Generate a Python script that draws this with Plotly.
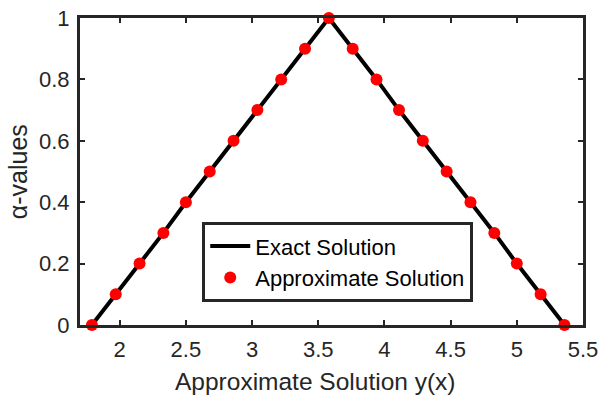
import plotly.graph_objects as go

alpha = [0.0, 0.1, 0.2, 0.3, 0.4, 0.5, 0.6, 0.7, 0.8, 0.9, 1.0]
left_x = [1.79, 1.97, 2.15, 2.33, 2.50, 2.68, 2.86, 3.04, 3.22, 3.40, 3.58]
right_x = [5.36, 5.18, 5.00, 4.83, 4.65, 4.47, 4.29, 4.11, 3.94, 3.76, 3.58]

# full triangle (left rising branch, then right falling branch)
tri_x = left_x + right_x[::-1][1:]
tri_a = alpha + alpha[::-1][1:]

x_ticks = [2, 2.5, 3, 3.5, 4, 4.5, 5, 5.5]
x_ticklabels = ["2", "2.5", "3", "3.5", "4", "4.5", "5", "5.5"]
y_ticks = [0, 0.2, 0.4, 0.6, 0.8, 1]
y_ticklabels = ["0", "0.2", "0.4", "0.6", "0.8", "1"]

x_title = "Approximate Solution y(x)"
y_title = "α-values"

dark = "#262626"
font_family = "Liberation Sans, Arial, sans-serif"

fig = go.Figure()
fig.add_trace(go.Scatter(
    x=tri_x, y=tri_a, mode="lines", name="Exact Solution",
    line=dict(color="black", width=4), cliponaxis=False,
))
fig.add_trace(go.Scatter(
    x=tri_x, y=tri_a, mode="markers", name="Approximate Solution",
    marker=dict(color="red", size=12, line=dict(width=0)), cliponaxis=False,
))

axis_common = dict(
    showline=True, linecolor=dark, linewidth=3, mirror="allticks",
    ticks="inside", ticklen=5, tickwidth=2, tickcolor=dark,
    showgrid=False, zeroline=False, automargin=False,
    tickfont=dict(family=font_family, size=22, color=dark),
)

fig.update_layout(
    width=600, height=397,
    margin=dict(l=80, r=17, t=18, b=72),
    paper_bgcolor="white", plot_bgcolor="white",
    font=dict(family=font_family, color=dark),
    xaxis=dict(range=[1.7, 5.5], tickvals=x_ticks, ticktext=x_ticklabels,
               ticklabelstandoff=3, **axis_common),
    yaxis=dict(range=[0, 1], tickvals=y_ticks, ticktext=y_ticklabels,
               ticklabelstandoff=3, **axis_common),
    legend=dict(
        x=0.243, y=0.335, xanchor="left", yanchor="top",
        bgcolor="white", bordercolor=dark, borderwidth=3,
        font=dict(family=font_family, size=22, color="black"),
        itemwidth=40, tracegroupgap=0,
    ),
    showlegend=True,
    annotations=[
        dict(text=x_title, xref="paper", yref="paper", x=0.185, y=-0.183,
             xanchor="left", yanchor="middle", showarrow=False,
             font=dict(family=font_family, size=24.5, color=dark)),
        dict(text=y_title, xref="paper", yref="paper", x=-0.123, y=0.498,
             xanchor="center", yanchor="middle", showarrow=False, textangle=-90,
             font=dict(family=font_family, size=25, color=dark)),
    ],
)

fig.write_html("out.html", config={"displayModeBar": False},
               post_script="document.body.style.margin='0';")
